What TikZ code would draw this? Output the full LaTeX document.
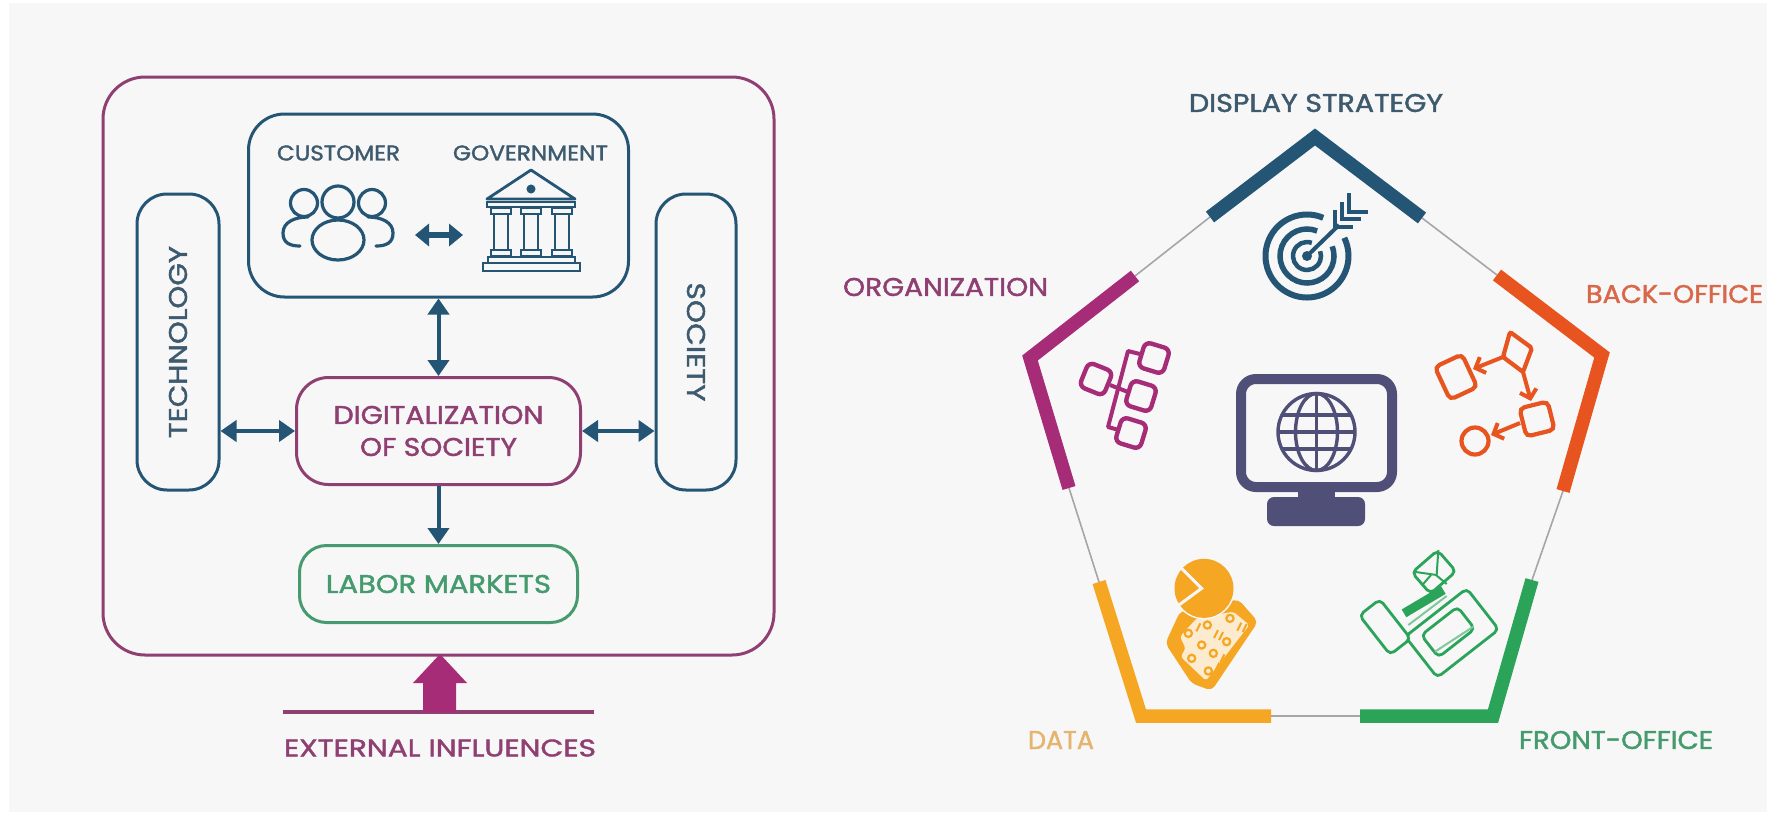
\documentclass[tikz,border=0pt]{standalone}
\usepackage{graphicx}
\usepackage{fontspec}
\setmainfont{Poppins}[FakeBold=1.6]
\usetikzlibrary{arrows.meta}
\definecolor{bgc}{HTML}{F7F7F7}
\definecolor{navy}{HTML}{245574}
\definecolor{navyt}{HTML}{3E5A6E}
\definecolor{mag}{HTML}{A72C78}
\definecolor{magd}{HTML}{8F3F72}
\definecolor{oran}{HTML}{E8541F}
\definecolor{orant}{HTML}{D9684A}
\definecolor{yell}{HTML}{F5A623}
\definecolor{yellt}{HTML}{E5B46E}
\definecolor{gree}{HTML}{2BA45A}
\definecolor{greet}{HTML}{459A6E}
\definecolor{purp}{HTML}{4F4F78}
\newcommand\fitw[3][18]{\resizebox{#2pt}{#1pt}{#3}}
% centre x, y, half width, half height, angle
\newcommand\rrect[6][]{\draw[shift={(#2,#3)},rotate=#6,#1] (-#4,-#5) rectangle (#4,#5);}
\tikzset{
  fnt/.style={font=\fontsize{22}{32}\selectfont, align=center, inner sep=0pt},
  box/.style={draw, line width=3pt, inner sep=0pt, fnt},
  link/.style={draw=navy, line width=4pt, {Triangle[length=16pt,width=21pt]}-{Triangle[length=16pt,width=21pt]}},
  linkd/.style={draw=navy, line width=4pt, -{Triangle[length=16pt,width=21pt]}},
  seg/.style={line width=13.5pt, miter limit=10},
  thin/.style={draw=black!35, line width=1.6pt},
  lbl/.style={fnt},
  ic/.style={line width=3.2pt, draw=navy},
  gov/.style={line width=2.8pt, draw=navy, fill=bgc},
  og/.style={line width=4.4pt, draw=mag, rounded corners=6pt},
  bo/.style={line width=4.2pt, draw=oran, rounded corners=5pt},
  ba/.style={line width=4pt, draw=oran, -{Straight Barb[length=8pt,width=17pt]}},
  fo/.style={line width=2.8pt, draw=gree, rounded corners=5pt},
}
\begin{document}
\begin{tikzpicture}[x=1pt,y=-1pt]
\useasboundingbox (0,0) rectangle (1767,812);
\fill[white] (0,0) rectangle (1767,812);
\fill[bgc] (9,3) rectangle (1767,812);

% ---------- left diagram ----------
\node[box, draw=magd, minimum width=671pt, minimum height=578pt, rounded corners=42pt] (outer) at (438.5,366) {};
\node[box, draw=navy, minimum width=380pt, minimum height=183pt, rounded corners=36pt] (top) at (438.5,205.5) {};
\node[box, draw=navy, text=navyt, rotate=90, minimum width=296pt, minimum height=82pt, rounded corners=30pt] (tech) at (178,342) {\fitw{192}{TECHNOLOGY}};
\node[box, draw=navy, text=navyt, rotate=-90, minimum width=296pt, minimum height=80pt, rounded corners=30pt] (soc) at (696,342) {\fitw{119}{SOCIETY}};
\node[box, draw=magd, text=magd, minimum width=284pt, minimum height=107pt, rounded corners=32pt] (dig) at (438.5,431) {\fitw{210}{DIGITALIZATION}\\\fitw{157}{OF SOCIETY}};
\node[box, draw=greet, text=greet, minimum width=278pt, minimum height=77pt, rounded corners=27pt] (lab) at (438.5,584) {\fitw{225}{LABOR MARKETS}};
\draw[link] (top.south) -- (dig.north);
\draw[link] (tech.south |- dig.west) -- (dig.west);
\draw[link] (dig.east) -- (soc.south |- dig.east);
\draw[linkd] (dig.south) -- (lab.north);

\node[lbl, text=navyt] (cust) at (338.5,153) {\fitw[15]{123}{CUSTOMER}};
\node[lbl, text=navyt] (govt) at (530.5,153) {\fitw[15]{155}{GOVERNMENT}};

% people
\draw[ic] (304,203) circle[radius=13.5pt];
\draw[ic] (372,203) circle[radius=13.5pt];
\draw[ic, line cap=round] (300,246) .. controls (290,246) and (283,243) .. (283,233) .. controls (283,222) and (295,217) .. (308,217);
\draw[ic, line cap=round] (376,246) .. controls (386,246) and (393,243) .. (393,233) .. controls (393,222) and (381,217) .. (368,217);
\draw[ic, fill=bgc] (338,240) ellipse[x radius=26pt, y radius=20pt];
\draw[ic, fill=bgc] (338,202) circle[radius=16pt];

% customer <-> government
\coordinate (cg1) at (415,235);
\coordinate (cg2) at (463,235);
\draw[draw=navy, line width=6pt, {Triangle[length=14pt,width=22pt]}-{Triangle[length=14pt,width=22pt]}] (cg1) -- (cg2);

% government building
\draw[gov, line join=round, fill=none] (487,199) -- (531,170) -- (575,199) -- cycle;
\draw[gov, fill=navy] (531,189) circle[radius=3pt];
\draw[gov] (487,202) rectangle (575,207);
\foreach \cx in {501,531,562}{
  \draw[gov] (\cx-7,214) rectangle (\cx+7,250);
  \draw[gov] (\cx-10,208) rectangle (\cx+10,214);
  \draw[gov] (\cx-10,250) rectangle (\cx+10,256);
}
\draw[gov] (488,257) rectangle (575,263);
\draw[gov] (483,263) rectangle (580,271);

% external influences
\draw[draw=magd, line width=4pt] (283,712) coordinate (ex1) -- (594,712) coordinate (ex2);
\fill[mag] (440,654) -- (467,683) -- (456,683) -- (456,712) -- (423,712) -- (423,683) -- (413,683) -- cycle;
\node[lbl, text=magd] (ext) at (440,748) {\fitw[17]{312}{EXTERNAL INFLUENCES}};

% ---------- pentagon ----------
\coordinate (a1) at (1210,217); \coordinate (a2) at (1315,137); \coordinate (a3) at (1422,218);
\coordinate (b1) at (1497,275); \coordinate (b2) at (1602,355); \coordinate (b3) at (1563,491);
\coordinate (c1) at (1532,580); \coordinate (c2) at (1493,716); \coordinate (c3) at (1360,716);
\coordinate (d1) at (1271,716); \coordinate (d2) at (1141,716); \coordinate (d3) at (1099,582);
\coordinate (e1) at (1069,488); \coordinate (e2) at (1030,358); \coordinate (e3) at (1135,276);
\draw[thin] (a3) -- (b1);
\draw[thin] (b3) -- (c1);
\draw[thin] (c3) -- (d1);
\draw[thin] (d3) -- (e1);
\draw[thin] (e3) -- (a1);
\draw[seg, draw=navy] (a1) -- (a2) -- (a3);
\draw[seg, draw=oran] (b1) -- (b2) -- (b3);
\draw[seg, draw=gree] (c1) -- (c2) -- (c3);
\draw[seg, draw=yell] (d1) -- (d2) -- (d3);
\draw[seg, draw=mag] (e1) -- (e2) -- (e3);

\node[lbl, text=navyt] (dsp) at (1316,103) {\fitw{254}{DISPLAY STRATEGY}};
\node[lbl, text=magd] (orgl) at (945.5,287) {\fitw{205}{ORGANIZATION}};
\node[lbl, text=orant] (bkl) at (1674.5,294) {\fitw{177}{BACK-OFFICE}};
\node[lbl, text=yellt] (dtl) at (1061,740) {\fitw{66}{DATA}};
\node[lbl, text=greet] (frl) at (1616,740) {\fitw{194}{FRONT-OFFICE}};

% target
\coordinate (tg) at (1307,256);
\draw[draw=navy, line width=6pt] (tg) ++(67:41.5pt) arc[start angle=67, end angle=386, radius=41.5pt];
\draw[draw=navy, line width=5.5pt] (tg) ++(68:27pt) arc[start angle=68, end angle=381, radius=27pt];
\draw[draw=navy, line width=4.5pt] (tg) ++(70:14pt) arc[start angle=70, end angle=380, radius=14pt];
\fill[navy] (tg) circle[radius=5pt];
\draw[draw=navy, line width=4pt] (tg) -- (1339,225);
\draw[draw=navy, line width=4pt] (1335,210) -- (1335,227) -- (1353,227);
\draw[draw=navy, line width=4pt] (1342,202) -- (1342,219) -- (1361,219);
\draw[draw=navy, line width=4pt] (1349,193) -- (1349,212) -- (1368,212);

% monitor
\fill[purp] (1298,487) rectangle (1335,500);
\draw[draw=purp, line width=10pt, rounded corners=15pt] (1241,379) rectangle (1392,487);
\fill[purp, rounded corners=7pt] (1267,497) rectangle (1365,526);
\coordinate (gl) at (1316.5,432);
\draw[draw=purp, line width=3.4pt] (gl) circle[radius=38.5pt];
\draw[draw=purp, line width=3.4pt] (gl) ellipse[x radius=21pt, y radius=38.5pt];
\draw[draw=purp, line width=3.4pt] (1316.5,393.5) -- (1316.5,470.5);
\draw[draw=purp, line width=3.4pt] (1278,432) -- (1355,432);
\draw[draw=purp, line width=3.4pt] (1282,415) -- (1351,415);
\draw[draw=purp, line width=3.4pt] (1282,449) -- (1351,449);

% organisation icon
\rrect[og]{1096}{379}{13}{13}{-22}
\rrect[og]{1154}{358}{13}{13}{-17}
\rrect[og]{1141}{396}{13}{13}{-17}
\rrect[og]{1131}{433}{13}{13}{-17}
\draw[draw=mag, line width=4pt, line join=round] (1140,354) -- (1128,351) -- (1108,427) -- (1119,430);
\draw[draw=mag, line width=4pt] (1110,385) -- (1128,392);

% back-office icon
\rrect[bo]{1456}{377}{15}{18}{25}
\rrect[bo]{1537}{419}{14.5}{14.5}{14}
\draw[bo, rounded corners=2pt] (1510,332) -- (1532,348) -- (1523,372) -- (1503,357) -- cycle;
\draw[bo] (1475,441) circle[radius=13.5pt];
\draw[ba] (1503,357) -- (1473,369);
\draw[ba] (1523,372) -- (1531,401);
\draw[ba] (1520,423) -- (1491,435);

% data icon
\begin{scope}[shift={(1130,510)},x=0.33333pt,y=-0.33333pt]
  \fill[yell, rounded corners=5pt] (150,305) -- (325,268) -- (384,335) -- (245,542) -- (185,520) -- (106,400) -- cycle;
  \fill[yell!22!white, rounded corners=3pt] (150,380) -- (200,325) -- (310,305) -- (358,345) -- (228,512) -- (152,440) -- (167,415) -- cycle;
  \fill[bgc] (222,235) circle[radius=31pt];
  \fill[yell] (222,235) circle[radius=29.5pt];
  \draw[draw=bgc, line width=3pt] (150,170) -- (215,235) -- (140,290);
  \foreach \px/\py in {300/325,232/345,175/370,215/405,290/395,250/430,185/445,235/483}{
    \draw[draw=yell, line width=2.2pt] (\px,\py) circle[radius=3.6pt];
  }
  \foreach \px/\py in {328/350,344/354,258/372,273/378,205/352,277/445,262/470}{
    \draw[draw=yell, line width=2pt] (\px+6,\py-12) -- (\px-6,\py+12);
  }
\end{scope}

% front-office icon
\rrect[fo]{1452}{633}{39}{26}{38}
\rrect[fo, fill=bgc]{1385}{627}{13}{25}{38}
\rrect[fo]{1448}{632}{23}{14}{38}
\begin{scope}[shift={(1130,510)},x=0.33333pt,y=-0.33333pt]
  \draw[draw=gree!60, line width=2pt] (915,425) -- (1030,350);
  \draw[draw=gree, line width=9pt] (822,310) -- (940,240);
  \draw[draw=gree!60, line width=2pt] (835,345) -- (950,258);
\end{scope}
\rrect[fo, fill=bgc]{1434}{572}{17}{14}{41}
\begin{scope}[shift={(1130,510)},x=0.33333pt,y=-0.33333pt]
  \draw[draw=gree, line width=2pt, line join=round] (850,185) -- (920,195) -- (925,120);
  \draw[draw=gree, line width=2pt] (876,226) -- (903,195);
  \draw[draw=gree, line width=2pt] (918,195) -- (950,222);
\end{scope}
\end{tikzpicture}
\end{document}
